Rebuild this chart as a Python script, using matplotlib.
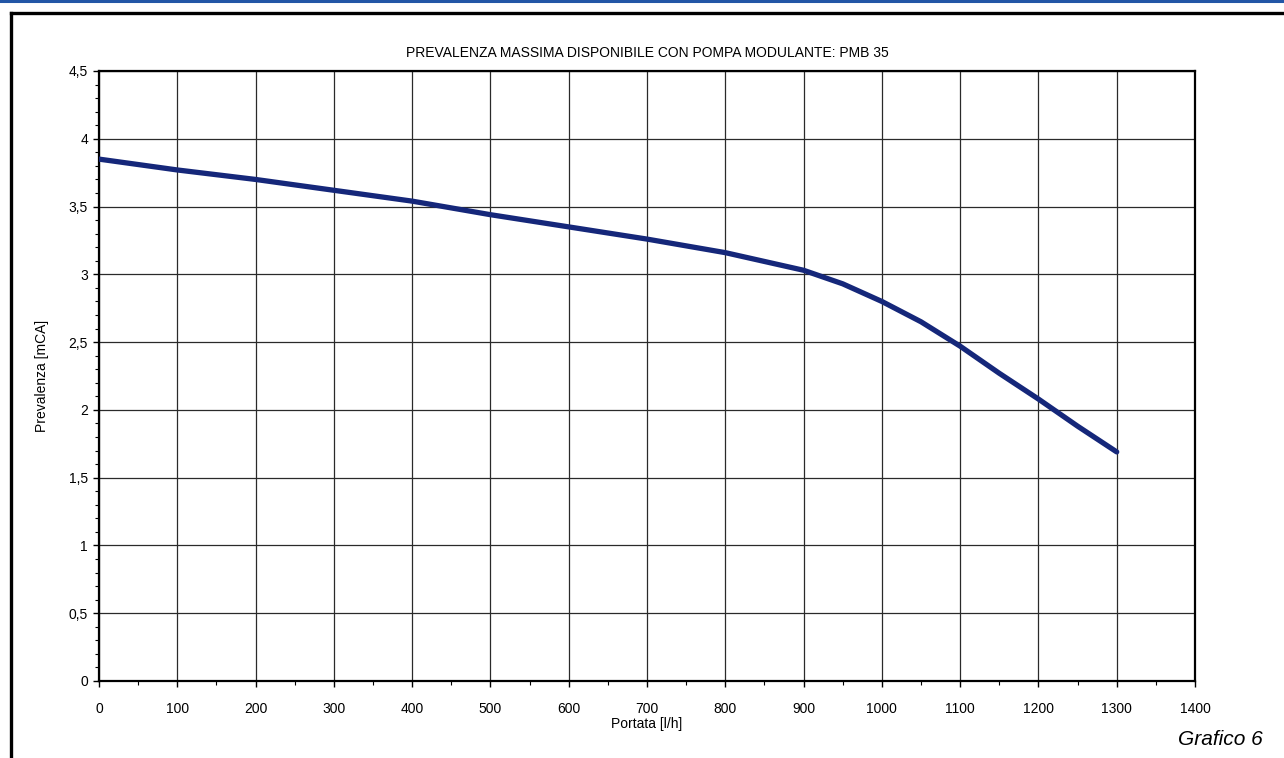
import matplotlib
matplotlib.use('Agg')
import matplotlib.pyplot as plt
from matplotlib.ticker import MultipleLocator, FuncFormatter
from matplotlib.lines import Line2D

plt.rcParams['font.family'] = ['Liberation Sans', 'DejaVu Sans']

# curve
portata = [0, 100, 200, 300, 400, 500, 600, 700, 800, 900, 950, 1000,
           1050, 1100, 1150, 1200, 1250, 1300]
prevalenza = [3.85, 3.77, 3.70, 3.62, 3.54, 3.44, 3.35, 3.26, 3.16, 3.03,
              2.93, 2.80, 2.65, 2.47, 2.27, 2.08, 1.88, 1.69]

title = 'PREVALENZA MASSIMA DISPONIBILE CON POMPA MODULANTE: PMB 35'
xlabel = 'Portata [l/h]'
ylabel = 'Prevalenza [mCA]'
caption = 'Grafico 6'

fig = plt.figure(figsize=(12.84, 7.58), dpi=100)
ax = fig.add_axes([99 / 1284, 1 - 681 / 758, (1195 - 99) / 1284, (681 - 71) / 758])

ax.plot(portata, prevalenza, color='#15277a', lw=3.8, solid_capstyle='round', zorder=3)

ax.set_xlim(0, 1400)
ax.set_ylim(0, 4.5)
ax.xaxis.set_major_locator(MultipleLocator(100))
ax.xaxis.set_minor_locator(MultipleLocator(50))
ax.yaxis.set_major_locator(MultipleLocator(0.5))
ax.yaxis.set_minor_locator(MultipleLocator(0.1))


def comma(v, pos):
    s = ('%.1f' % v).rstrip('0').rstrip('.')
    return s.replace('.', ',')


ax.yaxis.set_major_formatter(FuncFormatter(comma))
ax.grid(True, which='major', color='#2a2a2a', lw=0.9, zorder=1)
ax.tick_params(which='major', direction='out', length=4, width=1, labelsize=10, pad=4)
ax.tick_params(which='minor', direction='out', length=3, width=0.8)
ax.tick_params(axis='x', pad=11)
for s in ax.spines.values():
    s.set_linewidth(1.6)
    s.set_color('black')

ax.set_title(title, fontsize=10, pad=10)
ax.set_xlabel(xlabel, fontsize=10, labelpad=1)
ax.set_ylabel(ylabel, fontsize=10, labelpad=14)

# page decorations
fig.add_artist(Line2D([0, 1], [1 - 1 / 758, 1 - 1 / 758], color='#2256a6', lw=2.2))
fig.add_artist(Line2D([11 / 1284, 1], [1 - 13 / 758, 1 - 13 / 758], color='black', lw=2.4))
fig.add_artist(Line2D([11 / 1284, 11 / 1284], [0, 1 - 13 / 758], color='black', lw=2.4))
fig.text(1263 / 1284, 1 - 745 / 758, caption, ha='right', va='baseline',
         fontsize=15, style='italic')

fig.savefig('out.png', dpi=100)
